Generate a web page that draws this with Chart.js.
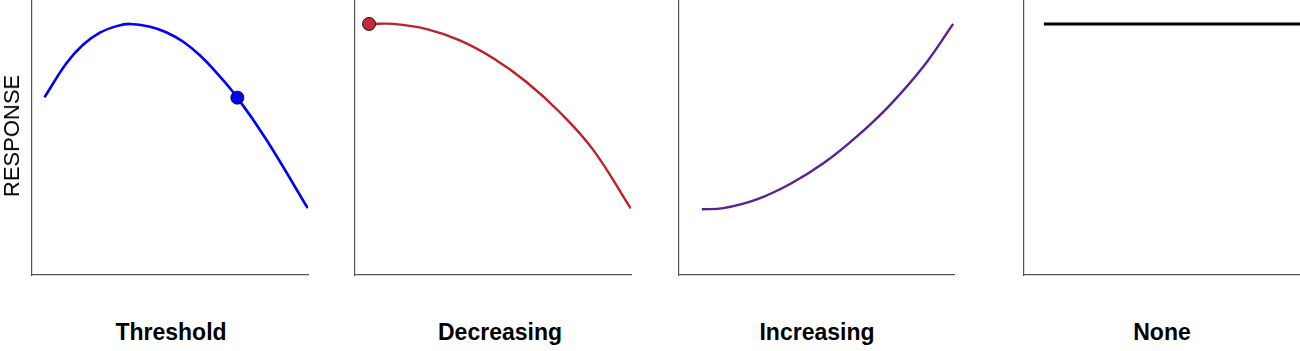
<!DOCTYPE html>
<html>
<head>
<meta charset="utf-8">
<script src="https://cdn.jsdelivr.net/npm/chart.js"></script>
<style>
  html, body { margin: 0; padding: 0; background: #fff; }
  #wrap { position: relative; width: 1300px; height: 351px; overflow: hidden; font-family: "Liberation Sans", Arial, sans-serif; }
  canvas { position: absolute; top: 0; }
  .panel-title { position: absolute; top: 319px; width: 300px; text-align: center; font-weight: bold; font-size: 23px; color: #000; }
  #ylab { position: absolute; left: 12px; top: 136px; font-size: 22px; color: #000; transform: translate(-50%, -50%) rotate(-90deg); white-space: nowrap; }
</style>
</head>
<body>
<div id="wrap">
  <canvas id="c1" width="296" height="285" style="left:22px"></canvas>
  <canvas id="c2" width="296" height="285" style="left:345px"></canvas>
  <canvas id="c3" width="295" height="285" style="left:669px"></canvas>
  <canvas id="c4" width="286" height="285" style="left:1014px"></canvas>
  <div id="ylab">RESPONSE</div>
  <div class="panel-title" style="left:21px">Threshold</div>
  <div class="panel-title" style="left:350px">Decreasing</div>
  <div class="panel-title" style="left:667px">Increasing</div>
  <div class="panel-title" style="left:1012px">None</div>
</div>
<script>
// values, x and y on a 0-10 scale
const titles = ['Threshold', 'Decreasing', 'Increasing', 'None'];

const thresholdX = [0.45, 1.26, 1.86, 2.46, 3.07, 3.55, 4.28, 4.88, 5.48, 6.09, 6.69, 7.44, 8.50, 9.99];
const thresholdY = [6.46, 7.72, 8.38, 8.81, 9.05, 9.13, 9.03, 8.82, 8.48, 7.98, 7.35, 6.45, 4.91, 2.43];
const thresholdDotX = [7.44];
const thresholdDotY = [6.45];

const decreasingX = [0.51, 1.39, 2.60, 3.80, 5.01, 6.21, 7.43, 8.63, 9.99];
const decreasingY = [9.13, 9.13, 8.94, 8.53, 7.88, 7.02, 5.91, 4.55, 2.42];
const decreasingDotX = [0.51];
const decreasingDotY = [9.13];

const increasingX = [0.83, 1.61, 2.83, 4.04, 5.25, 6.46, 7.67, 8.88, 9.97];
const increasingY = [2.39, 2.43, 2.75, 3.31, 4.06, 5.03, 6.18, 7.57, 9.13];

const noneX = [0.72, 10.0];
const noneY = [9.13, 9.13];

function pts(xs, ys) {
    return xs.map((x, i) => ({ x: x, y: ys[i] }));
}

function curve(xs, ys, color, width) {
    return {
        data: pts(xs, ys),
        borderColor: color,
        borderWidth: width,
        pointRadius: 0,
        fill: false,
        tension: 0.4,
        order: 1
    };
}

function dot(xs, ys, color) {
    return {
        data: pts(xs, ys),
        showLine: false,
        pointRadius: 6.5,
        pointBackgroundColor: color,
        pointBorderColor: '#111',
        pointBorderWidth: 1,
        order: 0
    };
}

function makeChart(id, datasets, rightPad) {
    const axis = {
        type: 'linear',
        min: 0,
        max: 10,
        ticks: { display: false },
        grid: { display: false, drawTicks: false },
        border: { display: true, color: '#555', width: 1.2 }
    };
    return new Chart(document.getElementById(id), {
        type: 'line',
        data: { datasets: datasets },
        options: {
            responsive: false,
            animation: false,
            devicePixelRatio: 1,
            layout: { autoPadding: false, padding: { left: 10, right: rightPad, top: 0, bottom: 10 } },
            plugins: { legend: { display: false }, tooltip: { enabled: false } },
            scales: { x: axis, y: Object.assign({}, axis) }
        }
    });
}

makeChart('c1', [
    curve(thresholdX, thresholdY, '#0000ff', 2.6),
    dot(thresholdDotX, thresholdDotY, '#0000f0')
], 10);

makeChart('c2', [
    curve(decreasingX, decreasingY, '#c0202a', 2.4),
    dot(decreasingDotX, decreasingDotY, '#c8283a')
], 10);

makeChart('c3', [
    curve(increasingX, increasingY, '#5c1f96', 2.4)
], 10);

makeChart('c4', [
    curve(noneX, noneY, '#000000', 3)
], 0);
</script>
</body>
</html>
